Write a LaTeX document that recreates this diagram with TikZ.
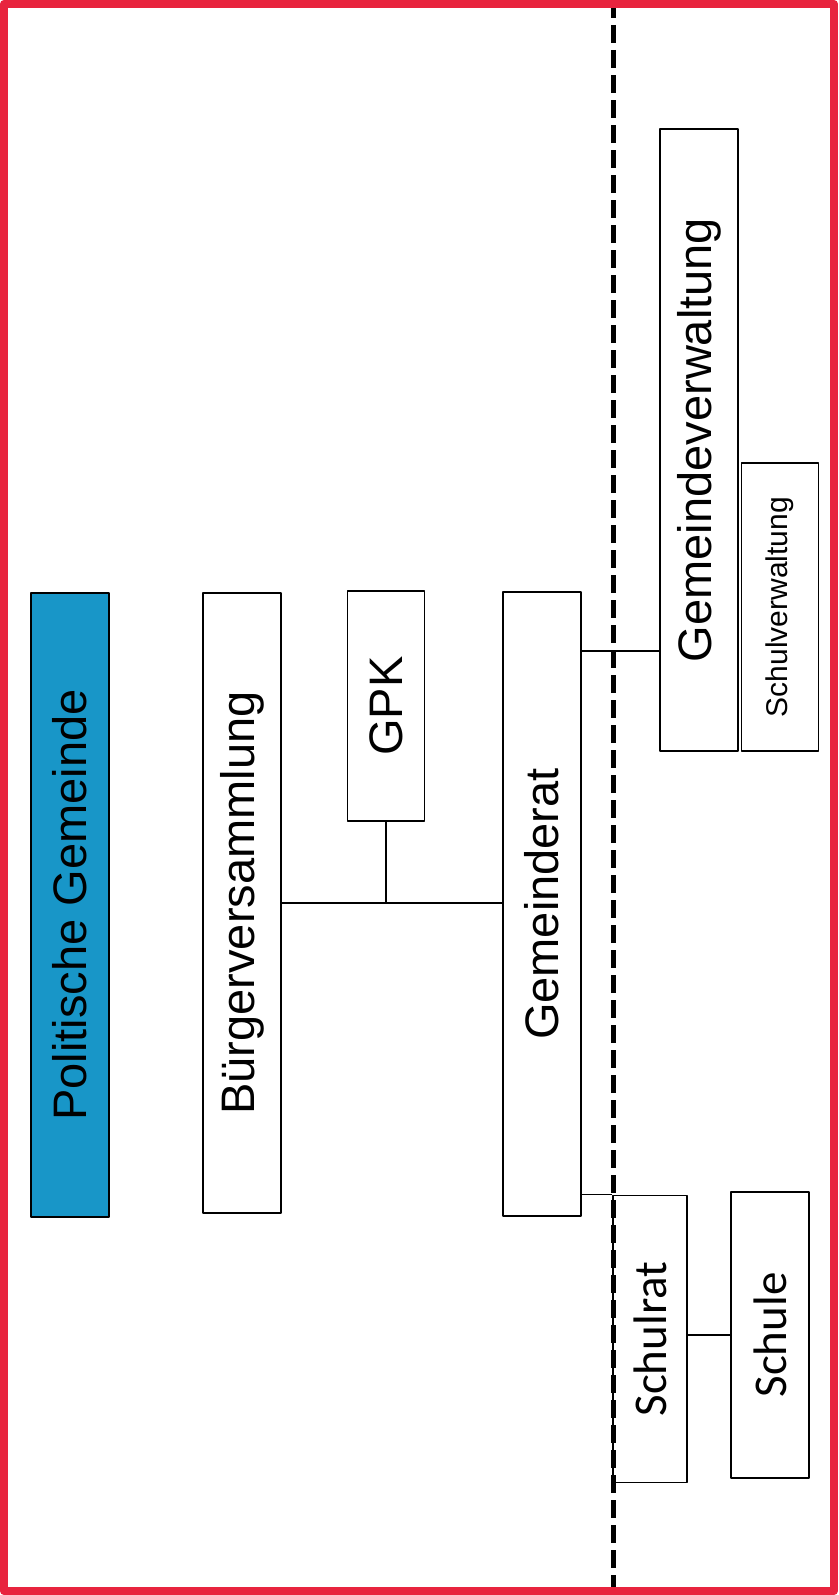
\documentclass[tikz,border=0pt]{standalone}
\usepackage{fontspec}
\setmainfont{Liberation Sans}
\newfontfamily\calfont{Carlito}
\usepackage{graphicx}
\definecolor{rahmenrot}{RGB}{232,36,62}
\definecolor{gemblau}{RGB}{24,150,200}
\newcommand{\hoch}[1]{\rotatebox{90}{#1}}
\tikzset{
  kasten/.style={draw, line width=1.8pt, inner sep=0pt, minimum width=78pt},
  gross/.style={font=\fontsize{47}{56}\selectfont},
  klein/.style={font=\fontsize{30}{36}\selectfont},
  linie/.style={line width=1.5pt},
  grenze/.style={line width=5pt, dash pattern=on 18pt off 7pt},
}

\begin{document}
\begin{tikzpicture}[x=1pt, y=-1pt, line join=round]
	\useasboundingbox (0,0) rectangle (838,1595);
	\coordinate (oben) at (613,0);
	\coordinate (unten) at (613,1595);
	\draw[grenze] (oben) -- (unten); % Grenze
	\draw[line width=8pt, rahmenrot] (4,4) rectangle (834,1591); % Rahmen
	\node[kasten, fill=gemblau, minimum height=624pt, gross] (pg) at (70,905) {\hoch{Politische Gemeinde}};
	\node[kasten, minimum height=620pt, gross] (bv) at (242,903) {\hoch{Bürgerversammlung}};
	\node[kasten, minimum width=77pt, minimum height=230pt, gross] (gpk) at (386,706) {\hoch{GPK}};
	\node[kasten, minimum height=624pt, gross] (gr) at (542,904) {\hoch{Gemeinderat}};
	\node[kasten, minimum height=622pt, gross] (gv) at (699,440) {\hoch{Gemeindeverwaltung}};
	\node[kasten, minimum width=77pt, minimum height=288pt, klein] (sv) at (780,607) {\hoch{Schulverwaltung}};
	\node[kasten, minimum width=74pt, minimum height=287pt, gross] (sr) at (650,1339) {\calfont\hoch{Schulrat}};
	\node[kasten, minimum height=286pt, gross] (sch) at (770,1335) {\calfont\hoch{Schule}};
	\draw[linie] (bv.east) -- (bv.east -| gr.west);
	\draw[linie] (gpk.south) -- (gpk.south |- bv.east);
	\draw[linie] ([yshift=-60pt]gr.north east) -- ([yshift=-60pt]gr.north east -| gv.west);
	\draw[linie] (gr.east |- sr.north west) -- (sr.north west);
	\draw[linie] (sch.west) -- (sch.west -| sr.east);
\end{tikzpicture}
\end{document}
